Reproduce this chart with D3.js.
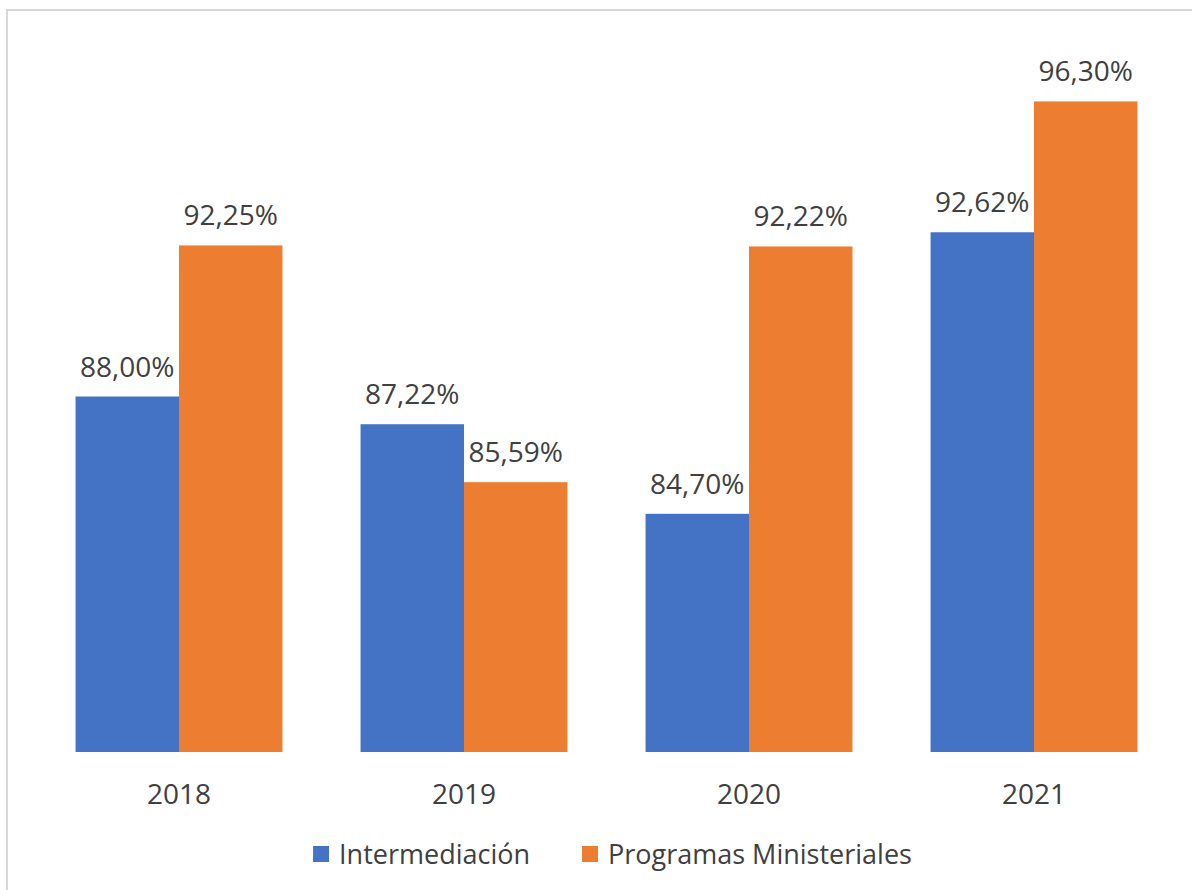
<!DOCTYPE html>
<html>
<head>
<meta charset="utf-8">
<script src="https://cdn.jsdelivr.net/npm/d3@7"></script>
<style>
  body { margin: 0; background: #fff; }
  text { font-family: "Open Sans", "Noto Sans", sans-serif; fill: #404040; }
</style>
</head>
<body>
<svg id="chart" width="1192" height="890"></svg>
<script>
var years = ["2018", "2019", "2020", "2021"];
var seriesNames = ["Intermediación", "Programas Ministeriales"];
var intermediacion = [88.00, 87.22, 84.70, 92.62];
var programas = [92.25, 85.59, 92.22, 96.30];
var colors = ["#4472C4", "#ED7D31"];

var svg = d3.select("#chart"),
    width = +svg.attr("width"),
    height = +svg.attr("height");

var esLocale = d3.formatLocale({ decimal: ",", thousands: ".", grouping: [3], currency: ["", "€"] }),
    fmt = esLocale.format(".2f");

// chart frame (only top and left edges show inside the picture)
svg.append("rect")
   .attr("x", 7).attr("y", 10)
   .attr("width", width + 20).attr("height", height + 20)
   .attr("fill", "none")
   .attr("stroke", "#d9d9d9")
   .attr("stroke-width", 2);

var x0 = d3.scaleBand().domain(years).range([36.5, 1176.5])
           .paddingInner(0.274).paddingOuter(0.137),
    x1 = d3.scaleBand().domain(seriesNames).range([0, x0.bandwidth()]),
    y = d3.scaleLinear().domain([78, 98]).range([752, 41]);

var rows = years.map(function (yr, i) {
  return { year: yr, values: [intermediacion[i], programas[i]] };
});

var groups = svg.selectAll("g.year").data(rows).enter()
  .append("g")
  .attr("class", "year")
  .attr("transform", function (d) { return "translate(" + x0(d.year) + ",0)"; });

var cells = groups.selectAll("g.bar")
  .data(function (d) {
    return d.values.map(function (v, j) { return { name: seriesNames[j], value: v, idx: j }; });
  })
  .enter().append("g").attr("class", "bar");

cells.append("rect")
  .attr("x", function (d) { return x1(d.name); })
  .attr("y", function (d) { return y(d.value); })
  .attr("width", x1.bandwidth())
  .attr("height", function (d) { return y.range()[0] - y(d.value); })
  .attr("fill", function (d) { return colors[d.idx]; });

cells.append("text")
  .attr("x", function (d) { return x1(d.name) + x1.bandwidth() / 2; })
  .attr("y", function (d) { return y(d.value) - 20; })
  .attr("text-anchor", "middle")
  .style("font-size", "28px")
  .text(function (d) { return fmt(d.value) + "%"; });

// category axis
var xAxis = svg.append("g")
  .attr("transform", "translate(0," + y.range()[0] + ")")
  .call(d3.axisBottom(x0).tickSize(0).tickPadding(32));
xAxis.select(".domain").remove();
xAxis.selectAll("text")
  .style("font-size", "28px")
  .style("font-family", "\"Open Sans\", \"Noto Sans\", sans-serif")
  .attr("fill", "#404040");

// legend
var legend = svg.append("g").attr("class", "legend");
var items = legend.selectAll("g").data(seriesNames).enter().append("g");
items.append("rect")
  .attr("width", 16).attr("height", 16)
  .attr("y", -18)
  .attr("fill", function (d, i) { return colors[i]; });
items.append("text")
  .attr("x", 26)
  .style("font-size", "27px")
  .text(function (d) { return d; });

var cursor = 0;
items.each(function () {
  var g = d3.select(this),
      w = 26 + g.select("text").node().getComputedTextLength();
  g.attr("transform", "translate(" + cursor + ",0)");
  cursor += w + 52;
});
var legendWidth = cursor - 52;
legend.attr("transform", "translate(" + (612.5 - legendWidth / 2) + ",864)");
</script>
</body>
</html>
